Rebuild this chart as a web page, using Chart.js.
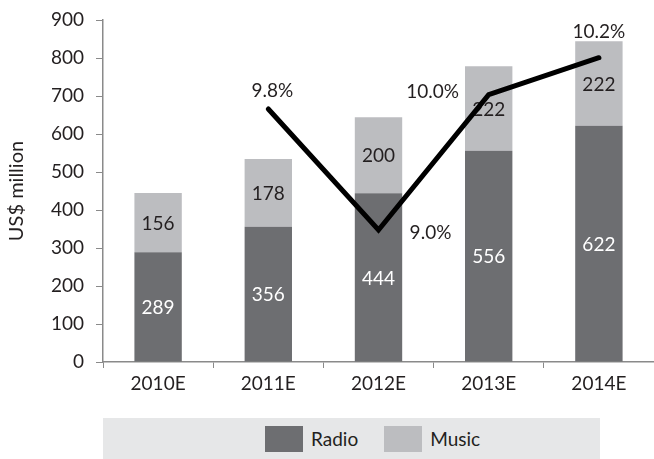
<!DOCTYPE html>
<html>
<head>
<meta charset="utf-8">
<script src="https://cdn.jsdelivr.net/npm/chart.js@4"></script>
<style>
  body { margin: 0; background: #fff; }
  #wrap { position: relative; width: 654px; height: 459px; }
  #legend {
    position: absolute; left: 103px; top: 418px; width: 497px; height: 41px;
    background: #e6e7e8; display: flex; align-items: center; padding-left: 162px;
    box-sizing: border-box; font: 19px Lato, sans-serif; color: #231f20;
  }
  #legend .box { width: 38px; height: 26px; margin-right: 8px; }
  #legend .item { display: flex; align-items: center; margin-right: 26px; }
</style>
</head>
<body>
<div id="wrap">
  <canvas id="chart" width="654" height="459"></canvas>
  <div id="legend"></div>
</div>
<script>
// values
var years = ['2010E', '2011E', '2012E', '2013E', '2014E'];
var radio = [289, 356, 444, 556, 622];
var music = [156, 178, 200, 222, 222];
// growth share, estimated a little past the printed rounding so the line sits where it does
var share = [null, 9.85, 9.0, 9.95, 10.21];
var shareLabels = ['', '9.8%', '9.0%', '10.0%', '10.2%'];
var yTicks = [0, 100, 200, 300, 400, 500, 600, 700, 800, 900];

var radioColor = '#6d6e71';
var musicColor = '#bcbdc0';
var textColor = '#231f20';
var fontFamily = 'Lato, sans-serif';

// draws values on the bars right after each bar dataset, and the % labels after the line
var labelPlugin = {
  id: 'labels',
  afterDatasetDraw: function (chart, args) {
    let ctx = chart.ctx;
    let ds = chart.data.datasets[args.index];
    ctx.save();
    ctx.font = '19px ' + fontFamily;
    ctx.textBaseline = 'middle';
    ctx.textAlign = 'center';
    if (ds.type === 'line') {
      // label offsets around each point: [dx, dy]
      let offs = [null, [4, -18], [52, 3], [-56, -3], [0, -26]];
      args.meta.data.forEach(function (pt, i) {
        if (!shareLabels[i]) return;
        ctx.fillStyle = textColor;
        ctx.fillText(shareLabels[i], pt.x + offs[i][0], pt.y + offs[i][1]);
      });
    } else {
      args.meta.data.forEach(function (bar, i) {
        ctx.fillStyle = ds.label === 'Radio' ? '#ffffff' : textColor;
        ctx.fillText(String(ds.data[i]), bar.x, (bar.y + bar.base) / 2 + 1);
      });
    }
    ctx.restore();
  }
};

var config = {
  data: {
    labels: years,
    datasets: [
      {
        type: 'line',
        label: 'Share',
        data: share,
        yAxisID: 'y2',
        borderColor: '#000000',
        borderWidth: 5,
        pointRadius: 0,
        tension: 0,
        borderJoinStyle: 'miter',
        borderCapStyle: 'round',
        order: 0
      },
      {
        type: 'bar',
        label: 'Radio',
        data: radio,
        backgroundColor: radioColor,
        stack: 's',
        barPercentage: 1,
        categoryPercentage: 0.43,
        order: 1
      },
      {
        type: 'bar',
        label: 'Music',
        data: music,
        backgroundColor: musicColor,
        stack: 's',
        barPercentage: 1,
        categoryPercentage: 0.43,
        order: 2
      }
    ]
  },
  options: {
    responsive: false,
    animation: false,
    layout: { padding: { top: 0, right: 0, bottom: 41, left: 0 } },
    plugins: {
      legend: { display: false },
      tooltip: { enabled: false }
    },
    scales: {
      x: {
        stacked: true,
        offset: true,
        grid: { offset: true, drawOnChartArea: false, drawTicks: true, tickLength: 6, color: '#8a8a8a' },
        border: { color: '#8a8a8a', width: 1.5 },
        ticks: { color: textColor, font: { family: fontFamily, size: 19 }, padding: 4 },
        afterFit: function (scale) { scale.height = 56; }
      },
      y: {
        stacked: true,
        min: 0,
        max: 900,
        afterBuildTicks: function (scale) {
          scale.ticks = yTicks.map(function (v) { return { value: v }; });
        },
        grid: { drawOnChartArea: false, drawTicks: true, tickLength: 7, color: '#8a8a8a' },
        border: { color: '#8a8a8a', width: 1.5 },
        ticks: { color: textColor, font: { family: fontFamily, size: 19 }, padding: 12 },
        title: {
          display: true,
          text: 'US$ million',
          color: textColor,
          font: { family: fontFamily, size: 20 },
          padding: { top: 5, bottom: 0 }
        },
        afterFit: function (scale) {
          scale.width = 103;
          // keep the 900 tick at the same height as the reference
          scale.paddingTop = 20;
        }
      },
      y2: {
        display: false,
        min: 8.073,
        max: 10.475
      }
    }
  },
  plugins: [labelPlugin]
};

var myChart = new Chart(document.querySelector('#chart'), config);

// legend built from the bar datasets
var legend = document.querySelector('#legend');
myChart.data.datasets.forEach(function (ds) {
  if (ds.type !== 'bar') return;
  let item = document.createElement('div');
  item.className = 'item';
  item.innerHTML = '<div class="box" style="background:' + ds.backgroundColor + '"></div><span>' + ds.label + '</span>';
  legend.appendChild(item);
});
</script>
</body>
</html>
